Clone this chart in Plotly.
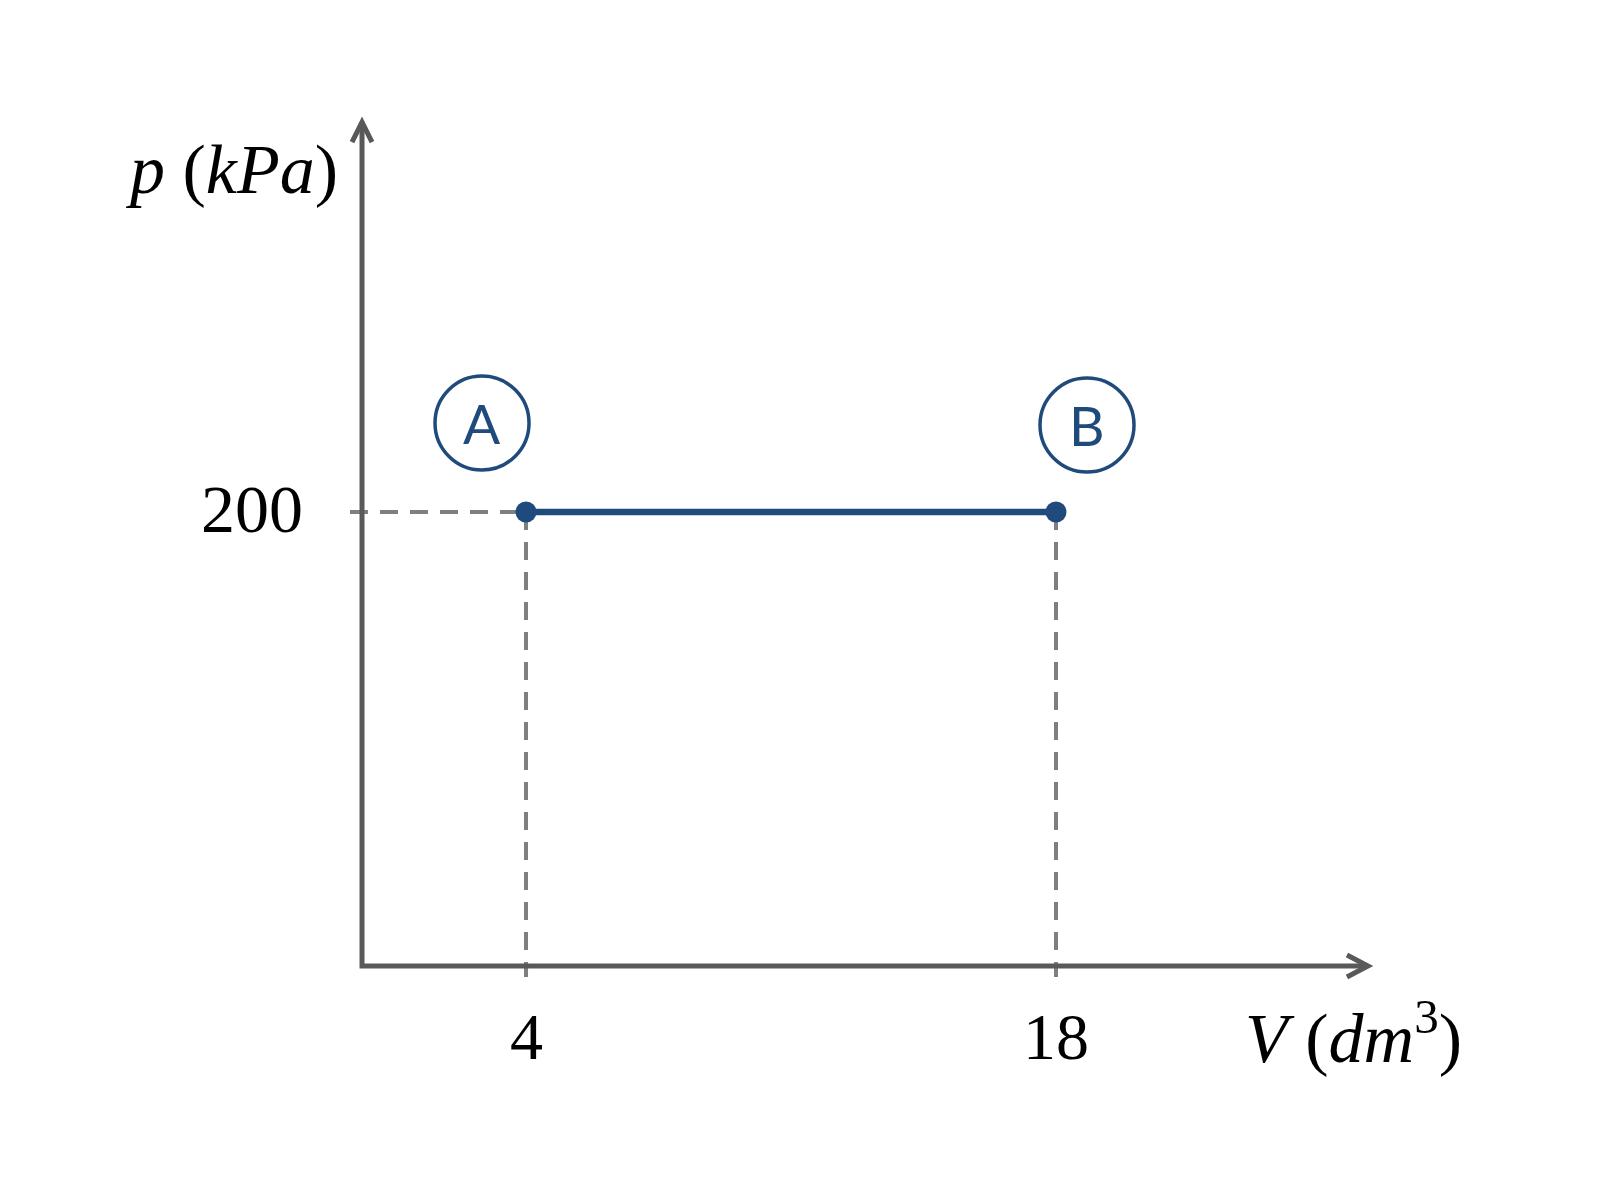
import plotly.graph_objects as go

# ---- data ----
volume = [4, 18]          # V (dm^3)
pressure = [200, 200]     # p (kPa)
state_labels = ["A", "B"]
x_tick_vals = [4, 18]
x_tick_text = ["4", "18"]
y_tick_vals = [200]
y_tick_text = ["200"]
x_title = "<i>V</i> (<i>dm</i><sup>3</sup>)"
y_title = "<i>p</i> (<i>kPa</i>)"

# ---- style / layout constants ----
BLUE = "#1F4A7C"
AXIS = "#595959"
DASH = "#7F7F7F"
SERIF = "Liberation Serif"

X_RANGE = [-1.970, 27.615]
Y_RANGE = [-14.98, 381.5]
AX_X0 = -0.332      # where the vertical axis sits
AX_Y0 = 0.0         # where the horizontal axis sits
AX_XTIP = 26.24
AX_YTIP = 371.8
DASH_LEFT = -0.65
DASH_BOTTOM = -4.85
DASH_STYLE = dict(color=DASH, width=4, dash="18px,12px")

fig = go.Figure()

fig.add_trace(go.Scatter(
    x=volume, y=pressure, mode="lines+markers",
    line=dict(color=BLUE, width=6.5),
    marker=dict(color=BLUE, size=21),
    hoverinfo="skip", showlegend=False, cliponaxis=False,
))

shapes = []
# axes as an L-shaped path
shapes.append(dict(
    type="path", xref="x", yref="y",
    path=f"M {AX_X0},{AX_YTIP} L {AX_X0},{AX_Y0} L {AX_XTIP},{AX_Y0}",
    line=dict(color=AXIS, width=5), layer="above",
))
# arrow heads (chevrons)
shapes.append(dict(
    type="path", xref="x", yref="y", xsizemode="pixel", ysizemode="pixel",
    xanchor=AX_XTIP, yanchor=AX_Y0,
    path="M -21,11 L 0,0 L -21,-11",
    line=dict(color=AXIS, width=5), layer="above",
))
shapes.append(dict(
    type="path", xref="x", yref="y", xsizemode="pixel", ysizemode="pixel",
    xanchor=AX_X0, yanchor=AX_YTIP,
    path="M -10,-20 L 0,0 L 10,-20",
    line=dict(color=AXIS, width=5), layer="above",
))
# dashed guide lines
for xv, yv in zip(volume, pressure):
    shapes.append(dict(
        type="line", xref="x", yref="y",
        x0=xv, x1=xv, y0=yv, y1=DASH_BOTTOM,
        line=DASH_STYLE, layer="below",
    ))
shapes.append(dict(
    type="line", xref="x", yref="y",
    x0=DASH_LEFT, x1=volume[0], y0=pressure[0], y1=pressure[0],
    line=DASH_STYLE, layer="below",
))

# circled state labels
label_offsets = [(-44, 89), (31, 87)]
R = 47
annotations = []
for xv, yv, lab, (dx, dy) in zip(volume, pressure, state_labels, label_offsets):
    shapes.append(dict(
        type="circle", xref="x", yref="y", xsizemode="pixel", ysizemode="pixel",
        xanchor=xv, yanchor=yv, x0=dx - R, x1=dx + R, y0=dy - R, y1=dy + R,
        line=dict(color=BLUE, width=3.5), fillcolor="rgba(0,0,0,0)",
    ))
    annotations.append(dict(
        x=xv, y=yv, xref="x", yref="y", text=lab, showarrow=False,
        xshift=dx, yshift=dy, xanchor="center", yanchor="middle",
        font=dict(family="Lato", size=55, color=BLUE),
    ))

# tick labels
for xv, t in zip(x_tick_vals, x_tick_text):
    annotations.append(dict(
        x=xv, y=AX_Y0, xref="x", yref="y", text=t, showarrow=False,
        yshift=-70, xanchor="center", yanchor="middle",
        font=dict(family=SERIF, size=66, color="black"),
    ))
for yv, t in zip(y_tick_vals, y_tick_text):
    annotations.append(dict(
        x=AX_X0, y=yv, xref="x", yref="y", text=t, showarrow=False,
        xshift=-57, yshift=3, xanchor="right", yanchor="middle",
        font=dict(family=SERIF, size=68, color="black"),
    ))

# axis titles
annotations.append(dict(
    x=AX_X0, y=AX_YTIP, xref="x", yref="y", text=y_title, showarrow=False,
    xshift=-22, yshift=-47, xanchor="right", yanchor="middle",
    font=dict(family=SERIF, size=70, color="black"),
))
annotations.append(dict(
    x=AX_XTIP, y=AX_Y0, xref="x", yref="y", text=x_title, showarrow=False,
    xshift=-14, yshift=-67, xanchor="center", yanchor="middle",
    font=dict(family=SERIF, size=70, color="black"),
))

fig.update_layout(
    width=1600, height=1200,
    margin=dict(l=292, r=188, t=92, b=208, pad=0),
    paper_bgcolor="white", plot_bgcolor="white",
    shapes=shapes, annotations=annotations,
    showlegend=False,
    xaxis=dict(range=X_RANGE, showgrid=False, zeroline=False, showline=False,
               showticklabels=False, ticks="", fixedrange=True),
    yaxis=dict(range=Y_RANGE, showgrid=False, zeroline=False, showline=False,
               showticklabels=False, ticks="", fixedrange=True),
)

fig.write_html("out.html")
